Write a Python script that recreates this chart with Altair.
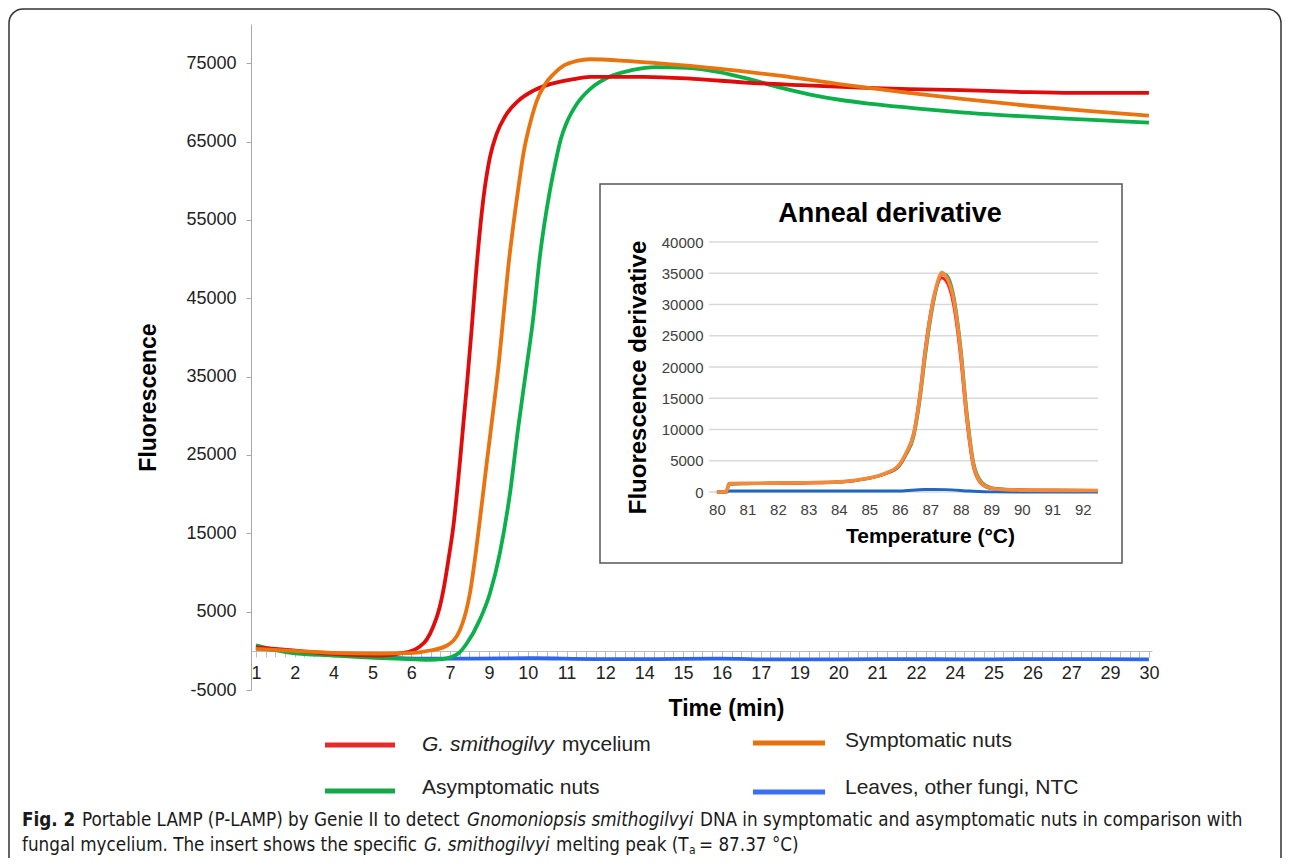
import json
import altair as alt
import pandas as pd

# ---------------- data ----------------
SERIES = ["G. smithogilvy mycelium", "Symptomatic nuts", "Asymptomatic nuts", "Leaves, other fungi, NTC"]

# main amplification curves: time (min) / fluorescence
T_RED = [1.0, 2.2, 3.5, 5.1, 5.8, 6.0, 6.3, 6.54, 6.76, 6.97, 7.1, 7.25, 7.41, 7.63, 7.76, 7.86, 8.0,
         8.14, 8.38, 8.6, 8.82, 9.09, 9.52, 10.0, 10.55, 11.3, 11.85, 13.6, 15.2, 16.9, 18.7, 20.6,
         22.2, 23.9, 25.7, 27.5, 30.0]
V_RED = [450, 40, -380, -600, -250, -90, 500, 1400, 3100, 5600, 8000, 11600, 15840, 24330, 30000,
         34300, 40800, 47800, 57500, 63000, 66000, 68200, 70200, 71470, 72320, 72960, 73250, 73250,
         73000, 72530, 72200, 71890, 71700, 71560, 71350, 71200, 71200]

T_ORANGE = [1.0, 2.2, 3.5, 5.0, 6.0, 6.65, 7.19, 7.63, 7.95, 8.22, 8.49, 8.76, 8.89, 9.03, 9.19, 9.52,
            9.68, 9.95, 10.12, 10.39, 10.66, 10.98, 11.42, 11.85, 13.0, 14.0, 16.0, 18.0, 20.0, 22.0,
            24.0, 26.0, 28.0, 30.0]
V_ORANGE = [250, 0, -250, -350, -300, 40, 650, 2700, 7350, 15000, 23800, 32400, 36800, 42400, 48800,
            59000, 63300, 68000, 70200, 72320, 73590, 74650, 75290, 75500, 75300, 75000, 74300, 73400,
            72300, 71300, 70400, 69600, 68900, 68300]

T_GREEN = [1.0, 2.2, 3.5, 5.1, 6.2, 6.6, 7.05, 7.35, 7.6, 7.84, 8.27, 8.6, 8.92, 9.25, 9.52, 9.8, 10.0,
           10.22, 10.55, 10.71, 10.9, 11.09, 11.42, 11.85, 12.5, 13.2, 14.0, 15.0, 16.0, 17.0, 18.0,
           19.0, 20.0, 21.0, 22.5, 24.0, 26.0, 28.0, 30.0]
V_GREEN = [700, -300, -600, -940, -1100, -1150, -1050, -800, -250, 900, 3950, 7350, 12450, 20090,
           28580, 36500, 42300, 50300, 58800, 62000, 65300, 67400, 69800, 71700, 73300, 74100, 74500,
           74400, 73900, 73000, 71900, 71000, 70300, 69800, 69200, 68700, 68200, 67800, 67400]

T_BLUE = [1.0, 2.0, 3.5, 5.0, 6.5, 8.0, 10.0, 12.0, 14.0, 16.0, 18.0, 20.0, 22.0, 24.0, 26.0, 28.0, 30.0]
V_BLUE = [300, 0, -400, -800, -1000, -1000, -950, -1050, -1050, -1000, -1100, -1100, -1050, -1100,
          -1050, -1050, -1100]

Y_TICKS = [-5000, 5000, 15000, 25000, 35000, 45000, 55000, 65000, 75000]
X_LABELS = [1, 2, 4, 5, 6, 7, 9, 10, 11, 12, 14, 15, 16, 17, 19, 20, 21, 22, 24, 25, 26, 27, 29, 30]

# inset: anneal derivative
T_INS = [80.0, 80.3, 80.4, 81.0, 82.0, 83.0, 84.0, 84.5, 84.87, 85.5, 85.97, 86.2, 86.46, 86.65,
         86.84, 87.05, 87.25, 87.37, 87.5, 87.77, 87.99, 88.2, 88.43, 88.7, 89.0, 89.5, 90.0, 91.0, 92.5]
V_ORANGE_INS = [0, 0, 1350, 1380, 1420, 1480, 1620, 1850, 2150, 2950, 4300, 6200, 9400, 15000, 22700,
                29500, 33800, 35100, 34600, 30700, 22700, 12000, 4000, 1300, 600, 380, 300, 260, 250]
V_RED_INS = [0, 0, 1300, 1350, 1400, 1450, 1600, 1800, 2100, 2900, 4200, 6100, 9500, 15400, 23200,
             29800, 33500, 34300, 33900, 29800, 21800, 11300, 3700, 1200, 550, 400, 320, 270, 250]
V_GREEN_INS = [0, 0, 1250, 1330, 1450, 1520, 1600, 1800, 2100, 2850, 4100, 5900, 8900, 14300, 21800,
               28800, 33400, 34900, 34800, 31300, 23600, 12900, 4500, 1500, 700, 420, 320, 270, 250]
T_BLUE_INS = [80.0, 80.3, 80.4, 82.0, 84.0, 86.0, 86.8, 87.5, 88.3, 89.0, 90.0, 92.5]
V_BLUE_INS = [0, 0, 150, 150, 170, 180, 400, 380, 150, 20, 0, 0]
INS_Y_TICKS = [0, 5000, 10000, 15000, 20000, 25000, 30000, 35000, 40000]
INS_X_TICKS = [80, 81, 82, 83, 84, 85, 86, 87, 88, 89, 90, 91, 92]

# ---------------- styling ----------------
FONT = "Liberation Sans"
CAP_FONT = "DejaVu Sans Condensed"
C_MAIN = {"red": "#e00b0b", "orange": "#e8730f", "green": "#0bb04b", "blue": "#2f66ee"}
C_INS = {"red": "#ff1a1a", "orange": "#f5893a", "green": "#1aa84f", "blue": "#1f67c2"}
C_LEG = {"red": "#e52a2a", "orange": "#e7700f", "green": "#15a848", "blue": "#3a6ff2"}

W, H = 901, 666
ONE = pd.DataFrame({"k": [0]})


def frame(t, v):
    return pd.DataFrame({"t": t, "v": v})


# ---------------- main chart ----------------
xs_main = alt.Scale(domain=[0.84, 30.1], nice=False, zero=False)
ys_main = alt.Scale(domain=[-5000, 80000], nice=False, zero=False)

n_minor = 92
minor_vals = [1 + i * 29 / n_minor for i in range(n_minor + 1)]
lab_arr = json.dumps([str(v) for v in X_LABELS])
label_expr = (
    "abs(((datum.value-1)*92/29)/4 - round(((datum.value-1)*92/29)/4)) < 0.02 ? "
    + lab_arr + "[round((datum.value-1)*23/29)] : ''"
)

x_axis_main = alt.Axis(
    values=minor_vals, labelExpr=label_expr, offset=-39, tickSize=6, tickColor="#bdbdbd",
    domainColor="#bdbdbd", grid=False, labelFontSize=18, labelColor="#222222", labelPadding=7,
    labelOverlap=False, labelFlush=False, labelBound=False,
    title="Time (min)", titleFontSize=23, titleFontWeight="bold", titleColor="#000000",
    titleX=475, titleY=57, titleAlign="center", titleBaseline="middle",
)
y_axis_main = alt.Axis(
    values=Y_TICKS, labelExpr="'' + datum.value", tickSize=5, tickColor="#a8a8a8",
    domainColor="#a8a8a8", grid=False,
    labelFontSize=18, labelColor="#222222", labelPadding=10, labelOverlap=False,
    title="Fluorescence", titleFontSize=23, titleFontWeight="bold", titleColor="#000000",
    titleX=-103, titleY=373, titleAngle=270, titleAlign="center", titleBaseline="middle",
)

main_layers = []
for t, v, key in [(T_BLUE, V_BLUE, "blue"), (T_GREEN, V_GREEN, "green"),
                  (T_RED, V_RED, "red"), (T_ORANGE, V_ORANGE, "orange")]:
    main_layers.append(
        alt.Chart(frame(t, v)).mark_line(color=C_MAIN[key], strokeWidth=3.8, interpolate="monotone")
        .encode(
            x=alt.X("t:Q", scale=xs_main, axis=x_axis_main),
            y=alt.Y("v:Q", scale=ys_main, axis=y_axis_main),
        )
    )
main = alt.layer(*main_layers)

# ---------------- inset chart ----------------
xs_ins = alt.Scale(domain=[79.74, 92.5], range=[458, 847], nice=False, zero=False)
ys_ins = alt.Scale(domain=[0, 40000], range=[468, 218], nice=False, zero=False)

x_axis_ins = alt.Axis(
    orient="bottom", offset=-198, values=INS_X_TICKS, ticks=False, domain=False, grid=False, zindex=1,
    labelFontSize=15, labelColor="#404040", labelPadding=10, labelFlush=False, labelOverlap=False,
    title="Temperature (°C)", titleFontSize=21, titleFontWeight="bold", titleColor="#000000",
    titleX=679, titleY=44, titleAlign="center", titleBaseline="middle",
)
y_axis_ins = alt.Axis(
    orient="left", offset=-457, values=INS_Y_TICKS, labelExpr="'' + datum.value", ticks=False,
    domain=False, grid=False,
    zindex=1, labelFontSize=15, labelColor="#404040", labelPadding=5, labelOverlap=False,
    title="Fluorescence  derivative", titleFontSize=24, titleFontWeight="bold", titleColor="#000000",
    titleX=-70, titleY=353, titleAngle=270, titleAlign="center", titleBaseline="middle",
)

box = alt.Chart(ONE).mark_rect(fill="white", stroke="#555555", strokeWidth=1.5).encode(
    x=alt.value(349), x2=alt.value(871), y=alt.value(160), y2=alt.value(539))

grid_df = pd.DataFrame({"D": INS_Y_TICKS, "T0": [79.74] * len(INS_Y_TICKS), "T1": [92.5] * len(INS_Y_TICKS)})
grid = alt.Chart(grid_df).mark_rule(color="#d9d9d9", strokeWidth=1.3).encode(
    x=alt.X("T0:Q", scale=xs_ins, axis=x_axis_ins), x2="T1:Q",
    y=alt.Y("D:Q", scale=ys_ins, axis=y_axis_ins))

ins_layers = [box, grid]
for t, v, key, sw in [(T_BLUE_INS, V_BLUE_INS, "blue", 3.0), (T_INS, V_GREEN_INS, "green", 3.0),
                      (T_INS, V_RED_INS, "red", 3.0), (T_INS, V_ORANGE_INS, "orange", 3.6)]:
    ins_layers.append(
        alt.Chart(pd.DataFrame({"T": t, "D": v})).mark_line(color=C_INS[key], strokeWidth=sw, interpolate="monotone")
        .encode(x=alt.X("T:Q", scale=xs_ins, axis=x_axis_ins), y=alt.Y("D:Q", scale=ys_ins, axis=y_axis_ins))
    )


def txt(s, x, y, size, weight="normal", style="normal", align="left", color="#222222", font=FONT):
    return alt.Chart(ONE).mark_text(
        text=s, align=align, baseline="middle", fontSize=size, fontWeight=weight,
        fontStyle=style, color=color, font=font,
    ).encode(x=alt.value(x), y=alt.value(y))


ins_layers.append(txt("Anneal derivative", 639, 190, 27, weight="bold", align="center", color="#000000"))
inset = alt.layer(*ins_layers)

# ---------------- legend ----------------
legend_layers = []
for key, x1, x2, y in [("red", 74, 144, 721), ("orange", 502, 574, 719),
                       ("green", 74, 144, 767), ("blue", 502, 574, 768)]:
    legend_layers.append(
        alt.Chart(ONE).mark_rule(color=C_LEG[key], strokeWidth=5).encode(
            x=alt.value(x1), x2=alt.value(x2), y=alt.value(y)))
legend_layers += [
    txt("G. smithogilvy", 171, 721, 21, style="italic"),
    txt("mycelium", 311, 721, 21),
    txt(SERIES[1], 594, 717, 21),
    txt(SERIES[2], 171, 764, 21),
    txt(SERIES[3], 594, 764, 21),
]

# ---------------- caption ----------------
CS = 18.7
CC = "#1a1a1a"
cap = [
    txt("Fig. 2", -229, 796, CS, weight="bold", font=CAP_FONT, color=CC),
    txt("Portable LAMP (P-LAMP) by Genie II to detect", -169, 796, CS, font=CAP_FONT, color=CC),
    txt("Gnomoniopsis smithogilvyi", 216, 796, CS, style="italic", font=CAP_FONT, color=CC),
    txt("DNA in symptomatic and asymptomatic nuts in comparison with", 449, 796, CS, font=CAP_FONT, color=CC),
    txt("fungal mycelium. The insert shows the specific", -229, 821, CS, font=CAP_FONT, color=CC),
    txt("G. smithogilvyi", 173, 821, CS, style="italic", font=CAP_FONT, color=CC),
    txt("melting peak (T", 305, 821, CS, font=CAP_FONT, color=CC),
    txt("a", 438, 826, 12, font=CAP_FONT, color=CC),
    txt("= 87.37 °C)", 448, 821, CS, font=CAP_FONT, color=CC),
]

border = alt.Chart(ONE).mark_rect(filled=False, stroke="#333333", strokeWidth=1.5, cornerRadius=14).encode(
    x=alt.value(-242), x2=alt.value(1030), y=alt.value(-15), y2=alt.value(900))

chart = alt.layer(main, inset, *legend_layers, *cap, border).resolve_scale(
    x="independent", y="independent"
).properties(
    width=W, height=H,
    padding={"left": 243, "top": 16, "right": 130, "bottom": 168},
    autosize=alt.AutoSizeParams(type="none"),
    background="white",
).configure(font=FONT, view=alt.ViewConfig(stroke="transparent"))

chart.save("out.html", embed_options={"renderer": "svg", "actions": False})
